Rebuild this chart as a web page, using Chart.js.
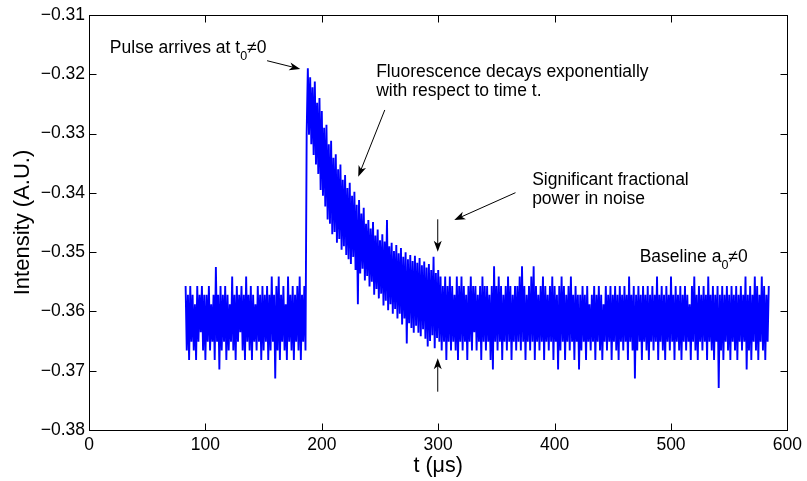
<!DOCTYPE html>
<html>
<head>
<meta charset="utf-8">
<script src="https://cdn.jsdelivr.net/npm/chart.js@4"></script>
<style>
  html, body { margin: 0; padding: 0; background: #fff; }
  canvas { display: block; }
</style>
</head>
<body>
<canvas id="chart" width="807" height="481" style="width:807px;height:481px"></canvas>
<script>
const T_START = 83; // first sample, µs
const T_STEP = 1;   // µs between samples

// flat baseline before the pulse, t = 83 .. 186
const preTrigger = [
  -0.3557, -0.3666, -0.3572, -0.3682, -0.3557, -0.3651, -0.3572, -0.3666, -0.3588, -0.3682,
  -0.3557, -0.3651, -0.3572, -0.3635, -0.3557, -0.3666, -0.3572, -0.3682, -0.3572, -0.3651,
  -0.3557, -0.3666, -0.3588, -0.3651, -0.3572, -0.3682, -0.3525, -0.3651, -0.3572, -0.3698,
  -0.3557, -0.3666, -0.3572, -0.3651, -0.3557, -0.3682, -0.3572, -0.3666, -0.3588, -0.3651,
  -0.3541, -0.3666, -0.3572, -0.3682, -0.3557, -0.3651, -0.3572, -0.3635, -0.3557, -0.3666,
  -0.3572, -0.3682, -0.3541, -0.3651, -0.3572, -0.3666, -0.3557, -0.3682, -0.3572, -0.3651,
  -0.3588, -0.3666, -0.3557, -0.3651, -0.3572, -0.3682, -0.3557, -0.3666, -0.3572, -0.3651,
  -0.3557, -0.3682, -0.3572, -0.3666, -0.3541, -0.3651, -0.3572, -0.3713, -0.3557, -0.3666,
  -0.3541, -0.3682, -0.3572, -0.3651, -0.3557, -0.3666, -0.3588, -0.3682, -0.3541, -0.3651,
  -0.3572, -0.3666, -0.3557, -0.3682, -0.3572, -0.3651, -0.3557, -0.3666, -0.3541, -0.3682,
  -0.3572, -0.3651, -0.3557, -0.3666
];

// pulse and exponential decay, t = 187 .. 300
const decay = [
  -0.3300, -0.3190, -0.3302, -0.3205, -0.3318, -0.3222, -0.3336, -0.3212, -0.3352, -0.3248,
  -0.3368, -0.3240, -0.3395, -0.3262, -0.3405, -0.3290, -0.3423, -0.3285, -0.3445, -0.3318,
  -0.3452, -0.3312, -0.3470, -0.3341, -0.3466, -0.3335, -0.3484, -0.3360, -0.3478, -0.3352,
  -0.3496, -0.3378, -0.3490, -0.3370, -0.3505, -0.3392, -0.3512, -0.3383, -0.3520, -0.3405,
  -0.3508, -0.3398, -0.3530, -0.3420, -0.3588, -0.3412, -0.3536, -0.3435, -0.3528, -0.3425,
  -0.3548, -0.3452, -0.3540, -0.3446, -0.3558, -0.3460, -0.3550, -0.3449, -0.3572, -0.3472,
  -0.3562, -0.3462, -0.3578, -0.3480, -0.3570, -0.3470, -0.3590, -0.3482, -0.3582, -0.3446,
  -0.3598, -0.3490, -0.3588, -0.3484, -0.3604, -0.3498, -0.3596, -0.3488, -0.3612, -0.3502,
  -0.3604, -0.3493, -0.3622, -0.3508, -0.3612, -0.3500, -0.3654, -0.3512, -0.3620, -0.3505,
  -0.3628, -0.3515, -0.3636, -0.3506, -0.3624, -0.3518, -0.3636, -0.3510, -0.3642, -0.3522,
  -0.3630, -0.3516, -0.3646, -0.3526, -0.3659, -0.3520, -0.3650, -0.3530, -0.3640, -0.3508,
  -0.3662, -0.3535, -0.3645, -0.3530
];

// slow tail of the decay, t = 301 .. 420
const tail = [
  -0.3651, -0.3541, -0.3666, -0.3557, -0.3651, -0.3541, -0.3682, -0.3557, -0.3651, -0.3541,
  -0.3666, -0.3557, -0.3651, -0.3572, -0.3666, -0.3541, -0.3682, -0.3557, -0.3651, -0.3541,
  -0.3666, -0.3557, -0.3651, -0.3572, -0.3682, -0.3557, -0.3651, -0.3541, -0.3666, -0.3557,
  -0.3635, -0.3557, -0.3666, -0.3572, -0.3651, -0.3557, -0.3682, -0.3541, -0.3651, -0.3557,
  -0.3666, -0.3557, -0.3651, -0.3572, -0.3682, -0.3557, -0.3698, -0.3524, -0.3651, -0.3557,
  -0.3666, -0.3541, -0.3651, -0.3557, -0.3682, -0.3572, -0.3651, -0.3557, -0.3666, -0.3541,
  -0.3651, -0.3557, -0.3682, -0.3572, -0.3651, -0.3557, -0.3666, -0.3557, -0.3651, -0.3541,
  -0.3666, -0.3524, -0.3651, -0.3557, -0.3682, -0.3572, -0.3651, -0.3557, -0.3666, -0.3541,
  -0.3651, -0.3524, -0.3682, -0.3557, -0.3651, -0.3572, -0.3666, -0.3557, -0.3651, -0.3541,
  -0.3682, -0.3557, -0.3651, -0.3572, -0.3666, -0.3557, -0.3651, -0.3541, -0.3682, -0.3557,
  -0.3651, -0.3572, -0.3698, -0.3557, -0.3666, -0.3541, -0.3651, -0.3557, -0.3682, -0.3572,
  -0.3651, -0.3557, -0.3666, -0.3541, -0.3651, -0.3572, -0.3682, -0.3557, -0.3651, -0.3572
];

// baseline after the pulse, t = 421 .. 584
const baseline = [
  -0.3698, -0.3572, -0.3666, -0.3557, -0.3651, -0.3572, -0.3682, -0.3557, -0.3651, -0.3588,
  -0.3666, -0.3572, -0.3651, -0.3557, -0.3682, -0.3572, -0.3651, -0.3557, -0.3666, -0.3572,
  -0.3682, -0.3588, -0.3651, -0.3557, -0.3666, -0.3572, -0.3651, -0.3557, -0.3682, -0.3572,
  -0.3651, -0.3557, -0.3666, -0.3572, -0.3682, -0.3557, -0.3651, -0.3572, -0.3666, -0.3557,
  -0.3651, -0.3572, -0.3682, -0.3541, -0.3651, -0.3572, -0.3666, -0.3557, -0.3713, -0.3572,
  -0.3666, -0.3557, -0.3651, -0.3572, -0.3682, -0.3557, -0.3651, -0.3572, -0.3666, -0.3557,
  -0.3682, -0.3572, -0.3651, -0.3557, -0.3666, -0.3572, -0.3651, -0.3541, -0.3682, -0.3572,
  -0.3651, -0.3557, -0.3666, -0.3572, -0.3682, -0.3557, -0.3651, -0.3572, -0.3666, -0.3541,
  -0.3651, -0.3572, -0.3682, -0.3557, -0.3651, -0.3572, -0.3666, -0.3557, -0.3682, -0.3572,
  -0.3651, -0.3557, -0.3666, -0.3572, -0.3651, -0.3588, -0.3682, -0.3557, -0.3651, -0.3541,
  -0.3666, -0.3572, -0.3682, -0.3557, -0.3651, -0.3572, -0.3666, -0.3557, -0.3651, -0.3572,
  -0.3682, -0.3541, -0.3651, -0.3572, -0.3666, -0.3557, -0.3682, -0.3572, -0.3651, -0.3557,
  -0.3729, -0.3572, -0.3666, -0.3557, -0.3682, -0.3572, -0.3651, -0.3557, -0.3666, -0.3572,
  -0.3682, -0.3557, -0.3651, -0.3572, -0.3666, -0.3557, -0.3682, -0.3572, -0.3651, -0.3557,
  -0.3666, -0.3572, -0.3651, -0.3541, -0.3698, -0.3572, -0.3666, -0.3557, -0.3682, -0.3572,
  -0.3651, -0.3541, -0.3666, -0.3557, -0.3682, -0.3572, -0.3651, -0.3541, -0.3666, -0.3557,
  -0.3682, -0.3572, -0.3651, -0.3557
];

const xTicks = [0, 100, 200, 300, 400, 500, 600];
const yTicks = [-0.38, -0.37, -0.36, -0.35, -0.34, -0.33, -0.32, -0.31];

// text notes and arrows, anchored in data units (t, intensity)
const notes = [
  { t: 17.9, v: -0.31636, lines: [[['Pulse arrives at t'], ['0', 'sub'], ['\u22600']]] },
  { t: 246.7, v: -0.32041, lines: [[['Fluorescence decays exponentially']], [['with respect to time t.']]] },
  { t: 380.7, v: -0.33867, lines: [[['Significant fractional']], [['power in noise']]] },
  { t: 473.1, v: -0.35161, lines: [[['Baseline a'], ['0', 'sub'], ['\u22600']]] },
];
const arrows = [
  { from: [153.0, -0.31771], to: [181.5, -0.31911] },
  { from: [254.1, -0.32602], to: [231.3, -0.33727] },
  { from: [366.4, -0.33997], to: [313.8, -0.34458] },
  { from: [299.6, -0.34446], to: [299.6, -0.34993] },
  { from: [299.6, -0.37354], to: [299.6, -0.36791] },
];

const FONT = '"Liberation Sans", Arial, Helvetica, sans-serif';
const TEXT_SIZE = 17.5;

const samples = preTrigger.concat(decay, tail, baseline)
  .map((v, i) => ({ x: T_START + i * T_STEP, y: v }));

function drawArrow(ctx, x1, y1, x2, y2) {
  const a = Math.atan2(y2 - y1, x2 - x1);
  ctx.beginPath();
  ctx.moveTo(x1, y1);
  ctx.lineTo(x2 - 7 * Math.cos(a), y2 - 7 * Math.sin(a));
  ctx.stroke();
  ctx.save();
  ctx.translate(x2, y2);
  ctx.rotate(a);
  ctx.beginPath();
  ctx.moveTo(0, 0);
  ctx.lineTo(-11, -4);
  ctx.lineTo(-8, 0);
  ctx.lineTo(-11, 4);
  ctx.closePath();
  ctx.fill();
  ctx.restore();
}

// MATLAB style box with inward ticks, plus the annotations
const matlabAxes = {
  id: 'matlabAxes',
  afterDraw(chart) {
    const { ctx, chartArea: a, scales: { x, y } } = chart;
    const L = Math.round(a.left) + 0.5, R = Math.round(a.right) + 0.5;
    const T = Math.round(a.top) + 0.5, B = Math.round(a.bottom) + 0.5;
    ctx.save();
    ctx.strokeStyle = '#000';
    ctx.fillStyle = '#000';
    ctx.lineWidth = 1;
    ctx.strokeRect(L, T, R - L, B - T);
    ctx.beginPath();
    xTicks.forEach(v => {
      const px = Math.round(x.getPixelForValue(v)) + 0.5;
      ctx.moveTo(px, B); ctx.lineTo(px, B - 7);
      ctx.moveTo(px, T); ctx.lineTo(px, T + 7);
    });
    yTicks.forEach(v => {
      const py = Math.round(y.getPixelForValue(v)) + 0.5;
      ctx.moveTo(L, py); ctx.lineTo(L + 7, py);
      ctx.moveTo(R, py); ctx.lineTo(R - 7, py);
    });
    ctx.stroke();

    ctx.textAlign = 'left';
    ctx.textBaseline = 'alphabetic';
    notes.forEach(n => {
      const x0 = x.getPixelForValue(n.t);
      let yb = y.getPixelForValue(n.v);
      n.lines.forEach(parts => {
        let cx = x0;
        parts.forEach(([txt, kind]) => {
          const sub = kind === 'sub';
          ctx.font = (sub ? 12.5 : TEXT_SIZE) + 'px ' + FONT;
          ctx.fillText(txt, cx, yb + (sub ? 7.5 : 0));
          cx += ctx.measureText(txt).width;
        });
        yb += 19.5;
      });
    });

    arrows.forEach(ar => {
      drawArrow(ctx,
        x.getPixelForValue(ar.from[0]), y.getPixelForValue(ar.from[1]),
        x.getPixelForValue(ar.to[0]), y.getPixelForValue(ar.to[1]));
    });
    ctx.restore();
  }
};

const ctx = document.getElementById('chart').getContext('2d');
new Chart(ctx, {
  type: 'line',
  data: {
    datasets: [{
      data: samples,
      borderColor: '#0000ff',
      borderWidth: 1.9,
      pointRadius: 0,
      tension: 0,
      fill: false,
    }],
  },
  options: {
    responsive: false,
    animation: false,
    devicePixelRatio: 1,
    layout: { padding: { left: 0, top: 15, right: 15, bottom: 0 } },
    plugins: { legend: { display: false }, tooltip: { enabled: false } },
    scales: {
      x: {
        type: 'linear',
        min: 0,
        max: 600,
        afterBuildTicks: s => { s.ticks = xTicks.map(value => ({ value })); },
        afterFit: s => { s.height = 51; },
        grid: { display: false, drawTicks: false },
        border: { display: false },
        ticks: {
          color: '#000',
          font: { family: FONT, size: TEXT_SIZE },
          padding: 5,
          maxRotation: 0,
          autoSkip: false,
          callback: v => String(v),
        },
        title: {
          display: true,
          text: 't (\u03bcs)',
          color: '#000',
          font: { family: FONT, size: 21.5 },
          padding: { top: 0, bottom: 2 },
        },
      },
      y: {
        type: 'linear',
        min: -0.38,
        max: -0.31,
        afterBuildTicks: s => { s.ticks = yTicks.map(value => ({ value })); },
        afterFit: s => { s.width = 89; },
        grid: { display: false, drawTicks: false },
        border: { display: false },
        ticks: {
          color: '#000',
          font: { family: FONT, size: TEXT_SIZE },
          padding: 4,
          callback: v => v.toFixed(2).replace('-', '\u2212'),
        },
        title: {
          display: true,
          text: 'Intensity (A.U.)',
          color: '#000',
          font: { family: FONT, size: 22 },
          padding: { top: 10, bottom: 0 },
        },
      },
    },
  },
  plugins: [matlabAxes],
});
</script>
</body>
</html>
